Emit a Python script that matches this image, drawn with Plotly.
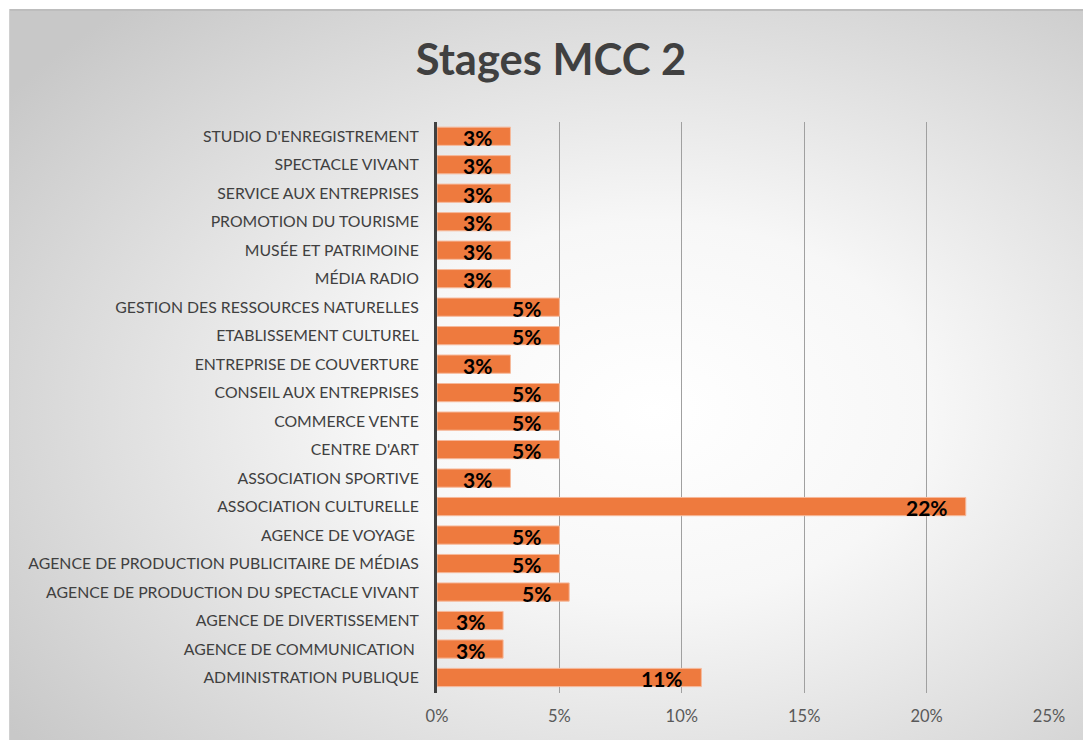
import plotly.graph_objects as go
import base64

categories = [
    "ADMINISTRATION PUBLIQUE",
    "AGENCE DE COMMUNICATION\u00a0",
    "AGENCE DE DIVERTISSEMENT",
    "AGENCE DE PRODUCTION DU SPECTACLE VIVANT",
    "AGENCE DE PRODUCTION PUBLICITAIRE DE MÉDIAS",
    "AGENCE DE VOYAGE\u00a0",
    "ASSOCIATION CULTURELLE",
    "ASSOCIATION SPORTIVE",
    "CENTRE D'ART",
    "COMMERCE VENTE",
    "CONSEIL AUX ENTREPRISES",
    "ENTREPRISE DE COUVERTURE",
    "ETABLISSEMENT CULTUREL",
    "GESTION DES RESSOURCES NATURELLES",
    "MÉDIA RADIO",
    "MUSÉE ET PATRIMOINE",
    "PROMOTION DU TOURISME",
    "SERVICE AUX ENTREPRISES",
    "SPECTACLE VIVANT",
    "STUDIO D'ENREGISTREMENT",
]
values = [0.108, 0.027, 0.027, 0.054, 0.05, 0.05, 0.216, 0.03, 0.05, 0.05,
          0.05, 0.03, 0.05, 0.05, 0.03, 0.03, 0.03, 0.03, 0.03, 0.03]
value_labels = ["11%", "3%", "3%", "5%", "5%", "5%", "22%", "3%", "5%", "5%",
                "5%", "3%", "5%", "5%", "3%", "3%", "3%", "3%", "3%", "3%"]
x_ticks = [0, 0.05, 0.10, 0.15, 0.20, 0.25]
x_tick_labels = ["0%", "5%", "10%", "15%", "20%", "25%"]

W, H = 1083, 740
ML, MR, MT, MB = 437, 34, 122, 47
PW, PH = W - ML - MR, H - MT - MB

# radial gradient background (as svg image)
svg = (
    '<svg xmlns="http://www.w3.org/2000/svg" width="1074" height="731" viewBox="0 0 1074 731" preserveAspectRatio="none">'
    '<defs><radialGradient id="g" cx="0.6" cy="0.55" r="0.74" fx="0.6" fy="0.55">'
    '<stop offset="0" stop-color="#ffffff"/><stop offset="0.35" stop-color="#f7f7f7"/>'
    '<stop offset="1" stop-color="#c8c8c8"/></radialGradient></defs>'
    '<rect x="0" y="0" width="1074" height="731" fill="url(#g)"/>'
    '<rect x="0" y="0" width="1074" height="2" fill="#bdbdbd"/>'
    '<rect x="0" y="0" width="1" height="731" fill="#d0d0d0"/>'
    '</svg>'
)
src = "data:image/svg+xml;base64," + base64.b64encode(svg.encode()).decode()

bx0, by0 = 9, 9
img = dict(
    source=src, xref="paper", yref="paper",
    x=(bx0 - ML) / PW, y=(H - MB - by0) / PH,
    sizex=(W - bx0) / PW, sizey=(H - by0) / PH,
    xanchor="left", yanchor="top", sizing="stretch", layer="below",
)

fig = go.Figure()
fig.add_trace(go.Bar(
    y=categories, x=values, orientation="h",
    marker=dict(color="#EE7A3E", line=dict(color="#F6B99B", width=1)),
    width=0.64, hoverinfo="skip",
))

annotations = []
for c, v, t in zip(categories, values, value_labels):
    annotations.append(dict(
        x=v, y=c, xref="x", yref="y", text="<b>%s</b>" % t, showarrow=False,
        xanchor="right", yanchor="middle", xshift=-16, yshift=-1,
        font=dict(family="Lato", size=21, color="#000000"),
    ))

fig.update_layout(
    width=W, height=H,
    margin=dict(l=ML, r=MR, t=MT, b=MB, pad=0),
    paper_bgcolor="#ffffff", plot_bgcolor="rgba(0,0,0,0)",
    images=[img],
    title=dict(text="<b>Stages MCC 2</b>", x=551 / W, xanchor="center",
               y=(H - 60) / H, yanchor="middle", yref="container",
               font=dict(family="Lato", size=43.5, color="#404040")),
    showlegend=False,
    annotations=annotations,
    xaxis=dict(range=[0, 0.25], tickvals=x_ticks, ticktext=x_tick_labels,
               showgrid=True, gridcolor="#a0a0a0", gridwidth=1, zeroline=False,
               showline=False, ticks="", ticklabelstandoff=11,
               tickfont=dict(family="Lato", size=16.5, color="#595959")),
    yaxis=dict(categoryorder="array", categoryarray=categories,
               showline=True, linecolor="#404040", linewidth=3,
               showgrid=False, ticks="", ticklabelstandoff=12,
               tickfont=dict(family="Lato", size=15.8, color="#404040")),
)

fig.write_html("out.html", config={"displayModeBar": False},
               post_script="document.body.style.margin='0px';")
